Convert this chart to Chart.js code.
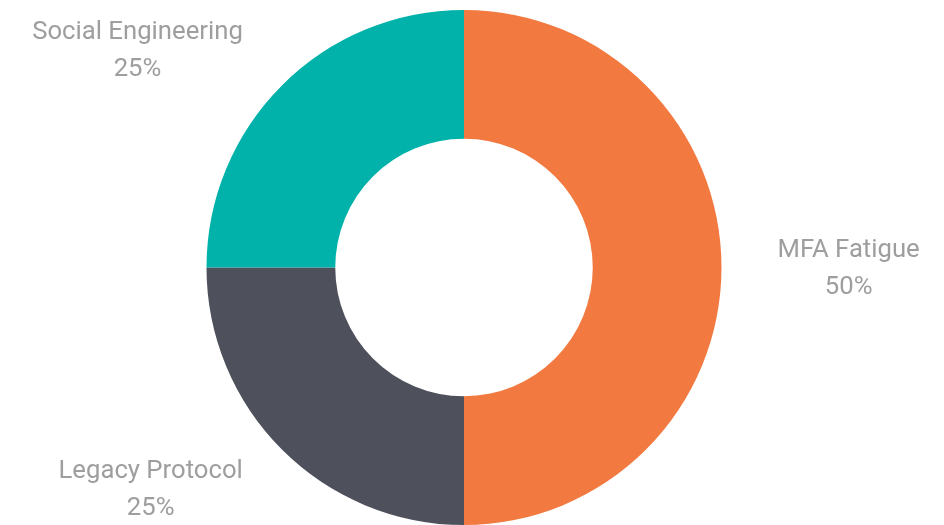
<!DOCTYPE html>
<html>
<head>
<meta charset="utf-8">
<script src="https://cdn.jsdelivr.net/npm/chart.js@4.4.1/dist/chart.umd.min.js"></script>
<style>
  html, body { margin: 0; padding: 0; background: #fff; }
  #wrap { width: 944px; height: 525px; position: relative; }
</style>
</head>
<body>
<div id="wrap"><canvas id="chart"></canvas></div>
<script>
const labels = ['MFA Fatigue', 'Legacy Protocol', 'Social Engineering'];
const values = [50, 25, 25];
const colors = ['#F27A40', '#4E505C', '#00B2AA'];

// draws "name / percent" outside each slice
const outsideLabels = {
    id: 'outsideLabels',
    afterDatasetsDraw(chart) {
        const ctx = chart.ctx;
        const meta = chart.getDatasetMeta(0);
        const total = values.reduce((a, b) => a + b, 0);
        ctx.save();
        ctx.font = '400 25.7px Roboto';
        ctx.fillStyle = '#9E9E9E';
        ctx.textBaseline = 'middle';
        meta.data.forEach((arc, i) => {
            const p = arc.getProps(['x', 'y', 'startAngle', 'endAngle', 'outerRadius'], true);
            const mid = (p.startAngle + p.endAngle) / 2;
            const cos = Math.cos(mid);
            const sin = Math.sin(mid);
            const d = p.outerRadius + 44;
            let x = p.x + cos * d;
            let y = p.y + sin * d + 2;
            if (Math.abs(cos) > 0.1) {
                x += cos > 0 ? 12 : -8;
                ctx.textAlign = cos > 0 ? 'left' : 'right';
            } else {
                ctx.textAlign = 'center';
            }
            if (Math.abs(sin) > 0.1) y += sin > 0 ? 7 : -5;
            const pct = Math.round(values[i] / total * 100) + '%';
            const w1 = ctx.measureText(labels[i]).width;
            let px = x;
            if (ctx.textAlign === 'right') px = x - w1 / 2;
            if (ctx.textAlign === 'left') px = x + w1 / 2;
            ctx.fillText(labels[i], x, y - 18.5);
            ctx.save();
            ctx.textAlign = 'center';
            ctx.fillText(pct, px, y + 18.5);
            ctx.restore();
        });
        ctx.restore();
    }
};

new Chart(document.getElementById('chart'), {
    type: 'doughnut',
    data: {
        labels: labels,
        datasets: [{
            data: values,
            backgroundColor: colors,
            borderWidth: 0
        }]
    },
    options: {
        responsive: true,
        maintainAspectRatio: false,
        animation: false,
        cutout: '50%',
        layout: { padding: { top: 10, bottom: 0, left: 0, right: 16 } },
        plugins: {
            legend: { display: false },
            tooltip: { enabled: false }
        }
    },
    plugins: [outsideLabels]
});
</script>
</body>
</html>
